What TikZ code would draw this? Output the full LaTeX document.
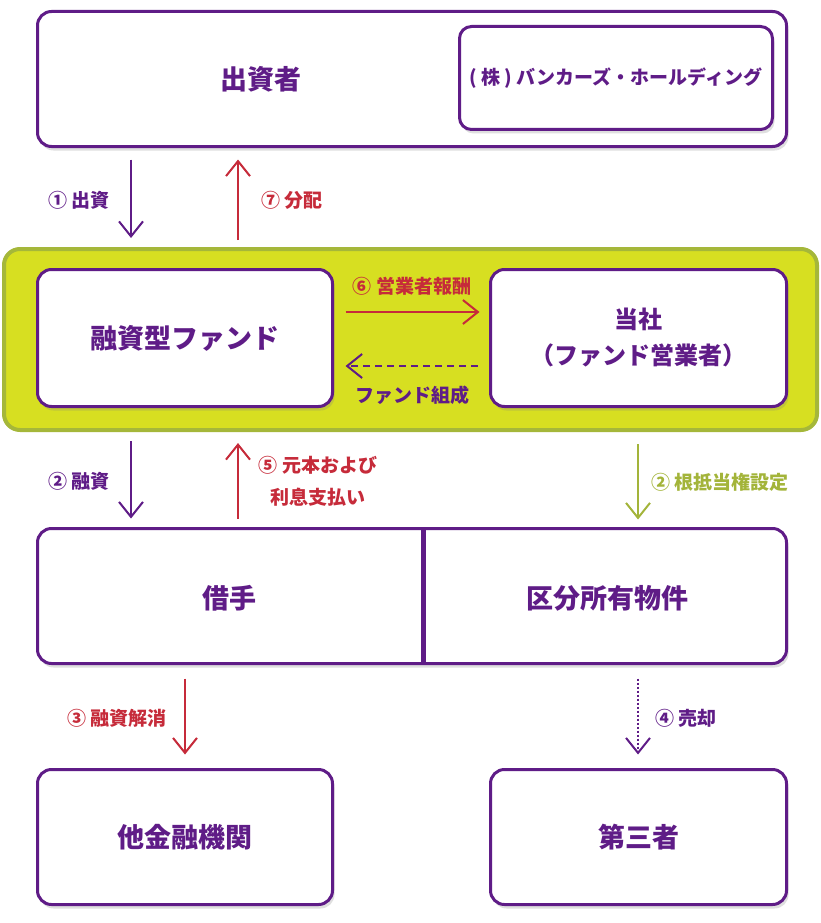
\documentclass[tikz,border=0pt]{standalone}
\usepackage{fontspec}
\setmainfont{Noto Sans CJK JP}
\usetikzlibrary{arrows.meta,shadows}
\definecolor{fundpurple}{HTML}{5F1C87}
\definecolor{fundred}{HTML}{C62B3A}
\definecolor{fundgreen}{HTML}{A3B43A}
\definecolor{bandfill}{HTML}{D7DF21}
\definecolor{bandline}{HTML}{A5B73A}
\tikzset{
    >={Straight Barb[length=15pt,width=24pt]},
    box/.style={draw=fundpurple,line width=3pt,rounded corners=14pt,fill=white,
                drop shadow={opacity=0.25,shadow xshift=2pt,shadow yshift=-4pt},
                text=fundpurple,font=\fontsize{27}{34}\selectfont\bfseries,align=center},
    boxtext/.style={text=fundpurple,font=\fontsize{27}{34}\selectfont\bfseries},
    lbl/.style={font=\fontsize{19}{32}\selectfont\bfseries,align=center,inner sep=0pt},
    flow/.style={->,line width=2pt}
}

\begin{document}
\begin{tikzpicture}[x=1pt,y=-1pt]
\useasboundingbox (0,0) rectangle (821,923);

% Band
\node[draw=bandline,fill=bandfill,line width=4pt,rounded corners=16pt,
      minimum width=813pt,minimum height=181pt,inner sep=0pt,outer sep=0pt]
      (band) at (410.5,339.5) {};

% Boxes
\node[box,minimum width=749pt,minimum height=135pt,outer sep=0pt] (investor) at (412,79) {};
\node[boxtext] (investorlbl) at (261,79) {出資者};
\node[box,drop shadow={opacity=0},minimum width=313pt,minimum height=103pt,
      rounded corners=12pt,font=\fontsize{19}{24}\selectfont\bfseries] (holding) at (616,78)
      {( 株 ) バンカーズ・ホールディング};
\node[box,minimum width=295pt,minimum height=137pt,outer sep=0pt] (fund) at (185,338) {融資型ファンド};
\node[box,font=\fontsize{24}{36}\selectfont\bfseries,minimum width=296pt,minimum height=137pt,outer sep=0pt]
      (company) at (638.5,338) {当社\\（ファンド営業者）};
\node[box,minimum width=749pt,minimum height=135pt,outer sep=0pt] (loan) at (412,596) {};
\draw[fundpurple,line width=5pt] (423,529) -- (423,663);
\node[boxtext] (borrower) at (229,598) {借手};
\node[boxtext] (property) at (607,598) {区分所有物件};
\node[box,minimum width=295pt,minimum height=135pt,outer sep=0pt] (lender) at (185,837) {他金融機関};
\node[box,minimum width=296pt,minimum height=135pt,outer sep=0pt] (buyer) at (638.5,837) {第三者};

% Columns
\coordinate (cA) at (131,0);
\coordinate (cB) at (238,0);
\coordinate (cC) at (638,0);
\coordinate (cD) at (185,0);

% Flows
\draw[flow,fundpurple,shorten <=13pt,shorten >=11pt] (investor.south -| cA) -- (band.north -| cA);
\node[lbl,text=fundpurple,anchor=east] (l1) at (110,200) {① 出資};
\draw[flow,fundred,shorten <=9pt,shorten >=13pt] (band.north -| cB) -- (investor.south -| cB);
\node[lbl,text=fundred,anchor=west] (l7) at (261,200) {⑦ 分配};

\draw[flow,fundred,shorten <=13pt,shorten >=11pt] ([yshift=26pt]fund.east) -- ([yshift=26pt]company.west);
\node[lbl,text=fundred] (l6) at (412,286) {⑥ 営業者報酬};
\draw[flow,fundpurple,dashed,dash pattern=on 7pt off 5pt,shorten <=13pt,shorten >=13pt] ([yshift=-28pt]company.west) -- ([yshift=-28pt]fund.east);
\node[lbl,text=fundpurple] (lf) at (412,395) {ファンド組成};

\draw[flow,fundpurple,shorten <=11pt,shorten >=10pt] (band.south -| cA) -- (loan.north -| cA);
\node[lbl,text=fundpurple,anchor=east] (l2) at (110,481) {② 融資};
\draw[flow,fundred,shorten <=10pt,shorten >=13pt] (loan.north -| cB) -- (band.south -| cB);
\node[lbl,text=fundred] (l5) at (318,481) {⑤ 元本および\\利息支払い};
\draw[flow,fundgreen,shorten <=14pt,shorten >=9pt] (band.south -| cC) -- (loan.north -| cC);
\node[lbl,text=fundgreen,anchor=west] (l2b) at (651,482) {② 根抵当権設定};

\draw[flow,fundred,shorten <=15pt,shorten >=15pt] (loan.south -| cD) -- (lender.north -| cD);
\node[lbl,text=fundred,anchor=east] (l3) at (167,718) {③ 融資解消};
\draw[flow,fundpurple,dotted,shorten <=15pt,shorten >=15pt] (loan.south -| cC) -- (buyer.north -| cC);
\node[lbl,text=fundpurple,anchor=west] (l4) at (655,718) {④ 売却};

\end{tikzpicture}
\end{document}
